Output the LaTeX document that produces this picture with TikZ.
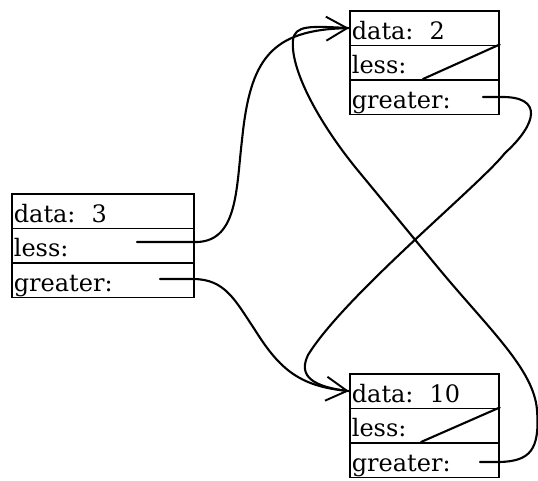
\documentclass[tikz,border=0pt]{standalone}
\usepackage{fontspec}
\setmainfont{DejaVu Serif}
\usetikzlibrary{arrows.meta}
\begin{document}
\begin{tikzpicture}[x=1pt,y=-1pt,
  row/.style={draw, line width=1.7pt, rectangle, inner xsep=2pt, inner ysep=0pt,
    text height=28.5pt, text depth=6pt, align=left, anchor=north west,
    font=\fontsize{24}{26}\selectfont},
  lrow/.style={row, text width=178pt},
  rrow/.style={row, text width=145pt},
  ptr/.style={line width=2.1pt, line join=round, line cap=round},
  tip/.style={-{Straight Barb[length=21pt,width=24pt,line width=1.9pt]}}]
\fill[white] (0,0) rectangle (538,480);
\useasboundingbox (0,0) rectangle (538,480);
% node 3
\node[lrow] (n3data) at (11,193) {data:\ \ 3};
\node[lrow] (n3less) at (11,227.5) {less:};
\node[lrow] (n3greater) at (11,262) {greater:};
% node 2
\node[rrow] (n2data) at (349,10) {data:\ \ 2};
\node[rrow] (n2less) at (349,44.5) {less:};
\node[rrow] (n2greater) at (349,79) {greater:};
% node 10
\node[rrow] (n10data) at (349,373) {data:\ \ 10};
\node[rrow] (n10less) at (349,407.5) {less:};
\node[rrow] (n10greater) at (349,442) {greater:};
% pointer start points
\coordinate (n3lessp) at (137,242);
\coordinate (n3grp) at (160,279);
\coordinate (n2grp) at (483,97);
\coordinate (n10grp) at (480,462);
\coordinate (n2lessn) at (423,79);
\coordinate (n10lessn) at (421,442);
% null pointers
\draw[ptr] (n2lessn) -- (n2less.north east);
\draw[ptr] (n10lessn) -- (n10less.north east);
% 3.less -> 2
\draw[ptr,tip] (n3lessp) -- (193,242) .. controls (238,244) and (236,190) .. (242,140)
  .. controls (250,60) and (270,30) .. (n2data.west);
% 3.greater -> 10
\draw[ptr,tip] (n3grp) -- (193,279) .. controls (225,279) and (235,300) .. (255,330)
  .. controls (280,370) and (300,386) .. (n10data.west);
% 2.greater -> 10
\draw[ptr] (n2grp) -- (500,97) .. controls (545,96) and (536,125) .. (505,153)
  .. controls (480,185) and (345,295) .. (308,355)
  .. controls (300,372) and (305,386) .. (n10data.west);
% 10.greater -> 2
\draw[ptr] (n10grp) -- (500,462) .. controls (530,461) and (540,450) .. (537,410)
  .. controls (534,370) and (490,330) .. (440,270) -- (360,173)
  .. controls (320,125) and (290,70) .. (293,40)
  .. controls (295,25) and (310,26) .. (n2data.west);
\end{tikzpicture}
\end{document}
